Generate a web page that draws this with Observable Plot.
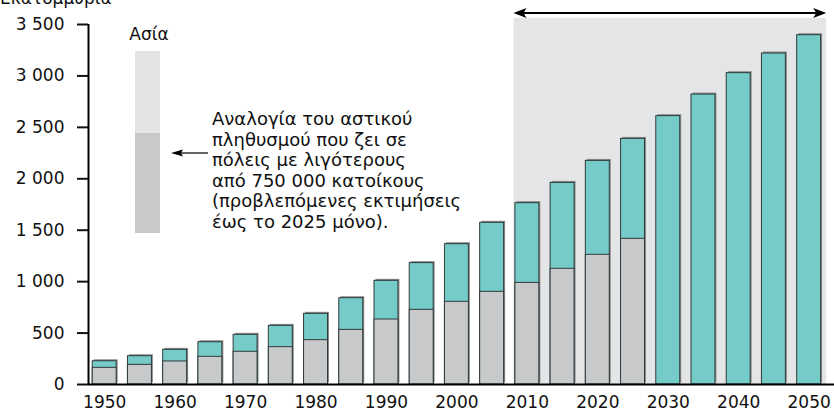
<!DOCTYPE html>
<html>
<head>
<meta charset="utf-8">
<script src="https://cdn.jsdelivr.net/npm/d3@7"></script>
<script src="https://cdn.jsdelivr.net/npm/@observablehq/plot@0.6"></script>
<style>
  html, body { margin: 0; padding: 0; background: #fff; }
  #chart svg { display: block; }
</style>
</head>
<body>
<div id="chart"></div>
<script>
// ---- data (millions of urban inhabitants, Asia) ----
const years = [1950, 1955, 1960, 1965, 1970, 1975, 1980, 1985, 1990, 1995, 2000,
               2005, 2010, 2015, 2020, 2025, 2030, 2035, 2040, 2045, 2050];
const totalUrban = [226, 275, 337, 411, 483, 570, 687, 839, 1008, 1180, 1364,
                    1572, 1763, 1960, 2174, 2388, 2609, 2819, 3027, 3218, 3396];
const smallCities = [162, 191, 224, 269, 318, 363, 431, 531, 632, 726, 804,
                     901, 988, 1125, 1261, 1416, null, null, null, null, null];
const yTicks = [0, 500, 1000, 1500, 2000, 2500, 3000, 3500];
const xTicks = [1950, 1960, 1970, 1980, 1990, 2000, 2010, 2020, 2030, 2040, 2050];
const projectionPeriod = [2010, 2050];
const yTitle = "Εκατομμύρια";
const legendTitle = "Ασία";
const noteLines = [
  "Αναλογία του αστικού",
  "πληθυσμού που ζει σε",
  "πόλεις με λιγότερους",
  "από 750 000 κατοίκους",
  "(προβλεπόμενες εκτιμήσεις",
  "έως το 2025 μόνο)."
];

const table = years.map((year, i) => ({year, total: totalUrban[i], small: smallCities[i]}));

const half = 1.7;          // half bar width in years
const xDomain = [1947.7, 2053.6];
const shade = [{x1: projectionPeriod[0] - half - 0.2, x2: projectionPeriod[1] + 2.5, y: 3560}];

const teal = "#74cbc8";
const gray = "#c8c9cb";
const edge = "#2f3b3b";
const fmt = d => d >= 1000 ? d3.format(",")(d).replace(/,/g, " ") : String(d);

const chart = Plot.plot({
  width: 834,
  height: 410,
  marginLeft: 88,
  marginRight: 0,
  marginTop: 24,
  marginBottom: 26,
  style: {fontFamily: "DejaVu Sans", fontSize: "17px", color: "#111", background: "#fff", overflow: "visible"},
  x: {domain: xDomain},
  y: {domain: [0, 3500]},
  marks: [
    Plot.rect(shade, {x1: "x1", x2: "x2", y1: 0, y2: "y", fill: "#e4e5e7", clip: false}),
    // drop shadow
    Plot.rectY(table, {x1: d => d.year - half, x2: d => d.year + half, y: "total", fill: "#8c8c8c", dx: 1.5, dy: -1.5}),
    Plot.rectY(table, {x1: d => d.year - half, x2: d => d.year + half, y: "total", fill: teal, stroke: edge, strokeWidth: 1}),
    Plot.rectY(table.filter(d => d.small != null), {x1: d => d.year - half, x2: d => d.year + half, y: "small", fill: gray, stroke: edge, strokeWidth: 1}),
    Plot.axisY({ticks: yTicks, tickSize: 11, tickPadding: 13, strokeWidth: 2, tickFormat: fmt, label: null}),
    Plot.axisX({ticks: xTicks, tickSize: 0, tickPadding: 11, tickFormat: d => String(d), label: null}),
    Plot.ruleY([0], {strokeWidth: 2, stroke: "#000"}),
    Plot.ruleX([xDomain[0]], {y1: 0, y2: 3500, strokeWidth: 2, stroke: "#000"})
  ]
});

document.getElementById("chart").appendChild(chart);

// ---- annotations ----
const svg = d3.select(chart);
const x = chart.scale("x");
const ff = "DejaVu Sans";

svg.append("text").attr("x", 0).attr("y", 4).attr("text-anchor", "start")
  .attr("font-family", ff).attr("font-size", 17).attr("fill", "#111").text(yTitle);

// double arrow over projection period
const ax1 = x.apply(shade[0].x1), ax2 = x.apply(shade[0].x2), ay = 13;
svg.append("line").attr("x1", ax1 + 6).attr("x2", ax2 - 6).attr("y1", ay).attr("y2", ay)
  .attr("stroke", "#000").attr("stroke-width", 2.2);
svg.append("path").attr("d", `M${ax1},${ay} L${ax1 + 13},${ay - 5} L${ax1 + 10},${ay} L${ax1 + 13},${ay + 5} Z`).attr("fill", "#000");
svg.append("path").attr("d", `M${ax2},${ay} L${ax2 - 13},${ay - 5} L${ax2 - 10},${ay} L${ax2 - 13},${ay + 5} Z`).attr("fill", "#000");

// legend swatch
svg.append("text").attr("x", 149).attr("y", 40).attr("text-anchor", "middle")
  .attr("font-family", ff).attr("font-size", 17).attr("fill", "#111").text(legendTitle);
svg.append("rect").attr("x", 135).attr("y", 51).attr("width", 25).attr("height", 82).attr("fill", "#e3e4e6");
svg.append("rect").attr("x", 135).attr("y", 133).attr("width", 25).attr("height", 100).attr("fill", gray);

// pointer arrow
svg.append("line").attr("x1", 180).attr("x2", 208).attr("y1", 153).attr("y2", 153).attr("stroke", "#000").attr("stroke-width", 1.2);
svg.append("path").attr("d", "M171,153 L183,149.5 L181,153 L183,156.5 Z").attr("fill", "#000");

// note text
const note = svg.append("text").attr("text-anchor", "start").attr("font-family", ff)
  .attr("font-size", 18).attr("fill", "#111");
noteLines.forEach((line, i) => {
  note.append("tspan").attr("x", 212).attr("y", 125 + i * 20.6).text(line);
});
</script>
</body>
</html>
